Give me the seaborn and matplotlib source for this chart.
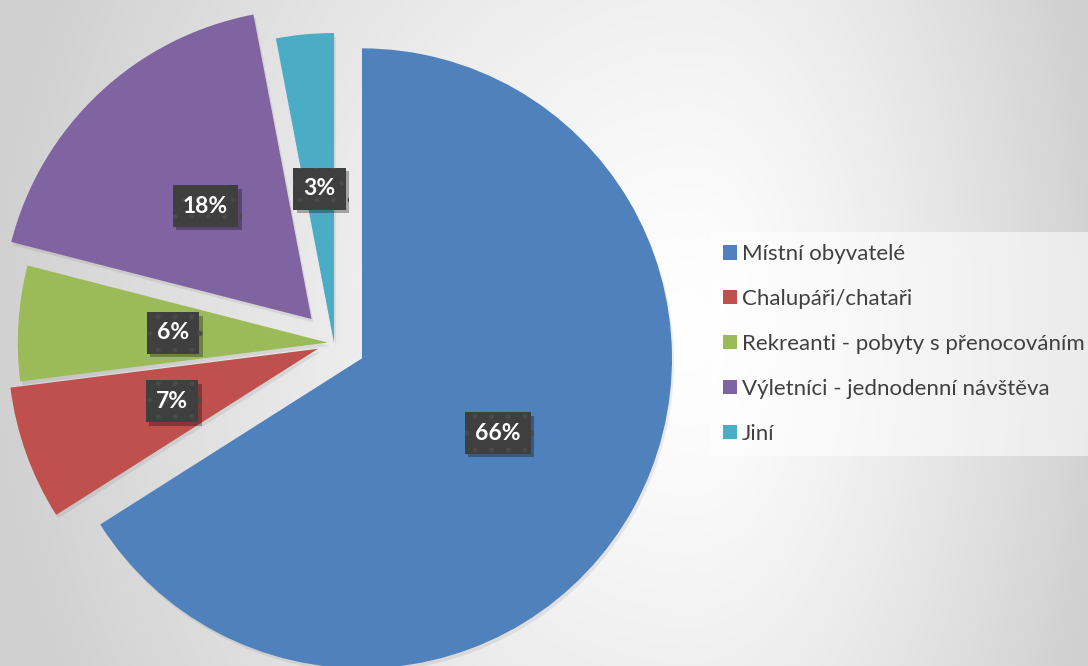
import numpy as np
import matplotlib
matplotlib.use("Agg")
import matplotlib.pyplot as plt
import matplotlib.patheffects as pe
from matplotlib.patches import Patch
import seaborn as sns

# Visitor structure (share of respondents, %)
categories = [
    "Místní obyvatelé",
    "Chalupáři/chataři",
    "Rekreanti - pobyty s přenocováním",
    "Výletníci - jednodenní návštěva",
    "Jiní",
]
shares = [66, 7, 6, 18, 3]
palette_hex = ["#4F81BD", "#C0504D", "#9BBB59", "#8064A2", "#4BACC6"]

sns.set_theme(style="white")
plt.rcParams["font.family"] = ["Lato", "DejaVu Sans"]
plt.rcParams["hatch.linewidth"] = 1.2
colors = sns.color_palette(palette_hex)

W, H, DPI = 1088, 666, 100
fig = plt.figure(figsize=(W / DPI, H / DPI), dpi=DPI)

# soft radial background: white near the middle-right, grey towards edges
yy, xx = np.mgrid[0:H, 0:W].astype(float)
cx, cy = 690.0, 330.0
dx = xx - cx
ax_scale = np.where(dx < 0, 700.0, 420.0)
t = np.sqrt((dx / ax_scale) ** 2 + ((yy - cy) / 800.0) ** 2)
t = np.clip(t, 0, 1) ** 1.3
shade = 1.0 - (47.0 / 255.0) * t
bg = np.dstack([shade, shade, shade])
fig.figimage(bg, xo=0, yo=0, origin="upper", zorder=-1)

ax = fig.add_axes([0, 0, 1, 1])
ax.set_facecolor("none")

R = 310.0  # pie radius in pixels
pcx, pcy = 334.0, 343.0  # pie centre (pixels from top-left)
explode = [0.103, 0.055, 0.02, 0.106, 0.0]

wedges, texts, autotexts = ax.pie(
    shares,
    colors=colors,
    explode=explode,
    startangle=90,
    counterclock=False,
    radius=1.0,
    autopct=lambda p: f"{p:.0f}%",
    pctdistance=0.5,
    wedgeprops=dict(linewidth=0),
    textprops=dict(color="white", fontsize=16.5, fontweight="bold"),
)
for w in wedges:
    w.set_path_effects([
        pe.SimplePatchShadow(offset=(1.5, -2.5), shadow_rgbFace="black", alpha=0.07),
        pe.Normal(),
    ])

ax.set_xlim(-pcx / R, (W - pcx) / R)
ax.set_ylim(-(H - pcy) / R, pcy / R)
ax.set_aspect("equal")
ax.axis("off")

# dark, finely dotted label boxes with a drop shadow
for at in autotexts:
    at.set_bbox(dict(boxstyle="square,pad=0.45", facecolor="#3F3F3F",
                     edgecolor="#4A4A4A", linewidth=0, hatch="."))
    at.get_bbox_patch().set_path_effects([
        pe.SimplePatchShadow(offset=(2.5, -2.5), shadow_rgbFace="black", alpha=0.3),
        pe.Normal(),
    ])
    at.set_zorder(5)
    at.set_ha("center")
    at.set_va("center")

handles = [Patch(facecolor=c, edgecolor="none") for c in colors]
leg = ax.legend(
    handles, categories,
    loc="center left",
    bbox_to_anchor=(711 / W, (H - 344) / H),
    bbox_transform=fig.transFigure,
    frameon=True, fancybox=False,
    facecolor="white", framealpha=0.55, edgecolor="none",
    fontsize=16,
    handlelength=0.62, handleheight=0.62,
    handletextpad=0.22, labelspacing=1.12,
    borderpad=0.55, borderaxespad=0,
)
for txt in leg.get_texts():
    txt.set_color("#404040")

fig.savefig("out.png", dpi=DPI)
